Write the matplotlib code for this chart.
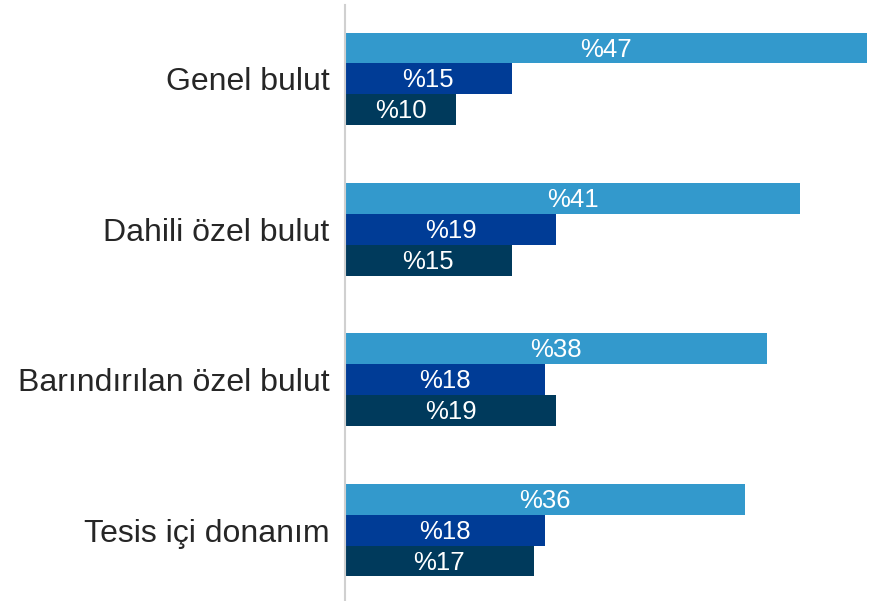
import numpy as np
import matplotlib.pyplot as plt

plt.rcParams["font.family"] = ["Liberation Sans", "DejaVu Sans"]

categories = ["Genel bulut", "Dahili özel bulut", "Barındırılan özel bulut", "Tesis içi donanım"]
series_a = [47, 41, 38, 36]
series_b = [15, 19, 18, 18]
series_c = [10, 15, 19, 17]
colors = ["#3399CC", "#003C96", "#003A5C"]

fig = plt.figure(figsize=(8.69, 6.01), dpi=100)
ax = fig.add_axes([345 / 869, 0, (867 - 345) / 869, 596 / 601])

y = np.arange(len(categories))
h = 0.206
for vals, off, c in zip([series_a, series_b, series_c], [-h, 0, h], colors):
    bars = ax.barh(y + off, vals, height=h, color=c)
    for b, v in zip(bars, vals):
        ax.text(v / 2, b.get_y() + b.get_height() / 2 + 0.01, f"%{v}",
                ha="center", va="center", color="white", fontsize=18.5)

ax.set_xlim(0, 47)
ax.set_ylim(3.472, -0.492)
ax.set_yticks(y)
ax.set_yticklabels(categories, fontsize=23, color="#262626")
ax.tick_params(axis="y", length=0, pad=11)
ax.set_xticks([])
for s in ["top", "right", "bottom"]:
    ax.spines[s].set_visible(False)
ax.spines["left"].set_color("#D0D0D0")
ax.spines["left"].set_linewidth(1.5)

fig.savefig("out.png", dpi=100)
